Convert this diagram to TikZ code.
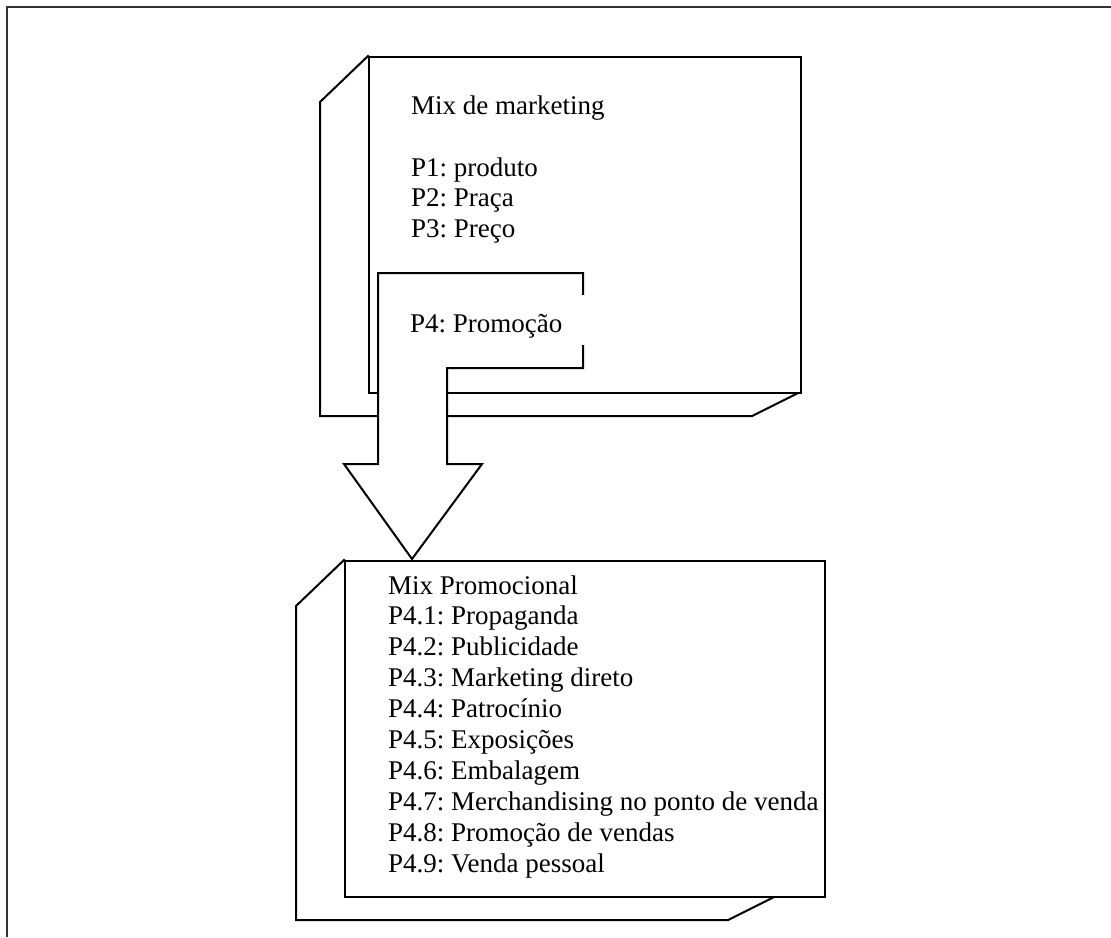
\documentclass[tikz,border=0pt]{standalone}
\usepackage{fontspec}
\setmainfont{Liberation Serif}
\frenchspacing
\begin{document}
\begin{tikzpicture}[x=1pt,y=-1pt,
  shape line/.style={draw=black, line width=2pt, fill=white},
  frame line/.style={draw=black!80, line width=1.6pt},
  label/.style={anchor=base west, inner sep=0pt, font=\fontsize{27}{31}\selectfont}]
\useasboundingbox (0,0) rectangle (1111,937);

% page frame (only top and left edges are inside the page)
\coordinate (f1) at (7,937);
\coordinate (f2) at (7,7);
\coordinate (f3) at (1111,7);
\draw[frame line] (f1) -- (f2) -- (f3);

% upper block: marketing mix (cube-like box)
\draw[shape line] (368,56) -- (320,102) -- (320,416) -- (752,416) -- (800,392) -- cycle;
\node (mixbox) [shape line, rectangle, inner sep=0pt, anchor=north west,
  minimum width=432pt, minimum height=336pt] at (368,56) {};
\node (mix)  [label] at (411,114) {Mix de marketing};
\node (p1)   [label] at (411,176) {P1: produto};
\node (p2)   [label] at (411,206) {P2: Praça};
\node (p3)   [label] at (411,237) {P3: Preço};

% lower block: promotional mix (cube-like box)
\draw[shape line] (344,560) -- (296,606) -- (296,920) -- (728,920) -- (776,896) -- cycle;
\node (promobox) [shape line, rectangle, inner sep=0pt, anchor=north west,
  minimum width=480pt, minimum height=336pt] at (344,560) {};
\foreach \t [count=\i from 0] in {Mix Promocional, P4.1: Propaganda, P4.2: Publicidade,
    P4.3: Marketing direto, P4.4: Patrocínio, P4.5: Exposições, P4.6: Embalagem,
    P4.7: Merchandising no ponto de venda, P4.8: Promoção de vendas, P4.9: Venda pessoal}
  \node (l\i) [label] at (388,594+30.9*\i) {\t};

% bent arrow leading from P4 down to the promotional mix
\draw[shape line] (378,273) -- (583,273) -- (583,368) -- (447,368) -- (447,464)
  -- (482,464) -- (412,559) -- (344,464) -- (378,464) -- cycle;

% text box of P4 (white background over the arrow outline)
\node (p4box) [fill=white, inner sep=0pt, anchor=north west,
  minimum width=190pt, minimum height=50pt] at (400,295) {};
\node (p4) [label] at (410,332) {P4: Promoção};
\end{tikzpicture}
\end{document}
